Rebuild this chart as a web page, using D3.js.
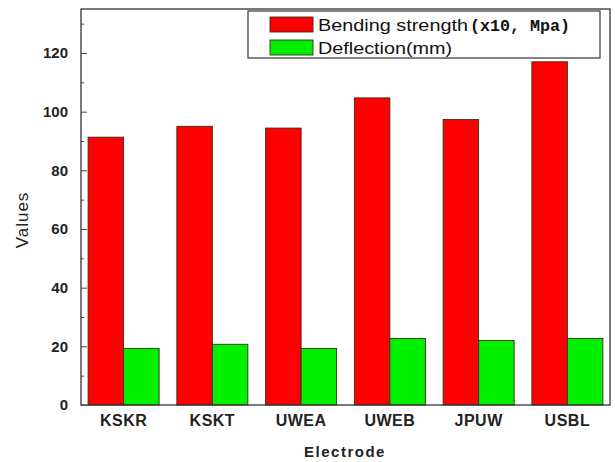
<!DOCTYPE html>
<html>
<head>
<meta charset="utf-8">
<script src="https://cdn.jsdelivr.net/npm/d3@7"></script>
<style>
  html, body { margin: 0; padding: 0; background: #fff; }
  svg { display: block; }
  text { font-family: "Liberation Sans", Arial, sans-serif; }
  text.mono { font-family: "Liberation Mono", "DejaVu Sans Mono", monospace; }
</style>
</head>
<body>
<svg id="chart" width="615" height="462"></svg>
<script>
// Electrode test results
const electrodes = ["KSKR", "KSKT", "UWEA", "UWEB", "JPUW", "USBL"];
const bendingStrength = [91.3, 95.0, 94.4, 104.7, 97.3, 117.0]; // x10 MPa
const deflection = [19.3, 20.7, 19.3, 22.7, 22.0, 22.7];         // mm
const majorTicks = [0, 20, 40, 60, 80, 100, 120];
const minorTicks = [10, 30, 50, 70, 90, 110, 130];
const seriesNames = ["Bending strength", "Deflection(mm)"];
const seriesColors = ["#ff0000", "#00f000"];

const svg = d3.select("#chart");
const plotL = 81, plotR = 610, plotT = 9, plotB = 405;

const x = d3.scaleBand().domain(electrodes).range([plotL, plotR])
  .paddingInner(0.2).paddingOuter(0.08);
const xs = d3.scaleBand().domain([0, 1]).range([0, x.bandwidth()]);
const y = d3.scaleLinear().domain([0, 135]).range([plotB, plotT]);

const rows = electrodes.map((e, i) => ({ e, v: [bendingStrength[i], deflection[i]] }));

// bars
const g = svg.append("g");
rows.forEach(r => {
  r.v.forEach((v, k) => {
    g.append("rect")
      .attr("x", x(r.e) + xs(k))
      .attr("y", y(v))
      .attr("width", xs.bandwidth())
      .attr("height", y(0) - y(v))
      .attr("fill", seriesColors[k])
      .attr("stroke", "#3a2a1a")
      .attr("stroke-width", 0.9);
  });
});

// frame
svg.append("rect")
  .attr("x", plotL).attr("y", plotT)
  .attr("width", plotR - plotL).attr("height", plotB - plotT)
  .attr("fill", "none").attr("stroke", "#333").attr("stroke-width", 1.3);

// y axis with inward ticks
const yAxis = d3.axisLeft(y).tickValues(majorTicks).tickSize(-6).tickPadding(13);
const ya = svg.append("g").attr("transform", `translate(${plotL},0)`).call(yAxis);
ya.select(".domain").remove();
ya.selectAll("line").attr("stroke", "#444");
ya.selectAll("text")
  .attr("font-size", 15).attr("font-weight", "bold").attr("fill", "#222");
svg.append("g").attr("transform", `translate(${plotL},0)`)
  .call(d3.axisLeft(y).tickValues(minorTicks).tickSize(-3).tickFormat(""))
  .call(s => s.select(".domain").remove())
  .selectAll("line").attr("stroke", "#444");

// x axis labels
const xa = svg.append("g").attr("transform", `translate(0,${plotB})`)
  .call(d3.axisBottom(x).tickSize(0).tickPadding(10));
xa.select(".domain").remove();
xa.selectAll("text")
  .attr("font-size", 16).attr("font-weight", "bold").attr("fill", "#222")
  .attr("letter-spacing", 0.5);

// axis titles
svg.append("text")
  .attr("x", 345).attr("y", 457)
  .attr("text-anchor", "middle")
  .attr("font-size", 15).attr("font-weight", "bold").attr("fill", "#222")
  .attr("letter-spacing", 1.5)
  .text("Electrode");
svg.append("text")
  .attr("transform", "translate(28,220) rotate(-90)")
  .attr("text-anchor", "middle")
  .attr("font-size", 17).attr("fill", "#222")
  .attr("letter-spacing", 1)
  .text("Values");

// legend
const lg = svg.append("g");
lg.append("rect")
  .attr("x", 248).attr("y", 11).attr("width", 352).attr("height", 47)
  .attr("fill", "#fff").attr("stroke", "#333").attr("stroke-width", 1.2);
const legendRows = [
  { y: 17, color: seriesColors[0] },
  { y: 40, color: seriesColors[1] }
];
legendRows.forEach(r => {
  lg.append("rect")
    .attr("x", 270).attr("y", r.y).attr("width", 43).attr("height", 15)
    .attr("fill", r.color).attr("stroke", "#3a2a1a").attr("stroke-width", 0.9);
});
lg.append("text").attr("x", 318).attr("y", 31)
  .attr("font-size", 17).attr("fill", "#111")
  .attr("textLength", 150).attr("lengthAdjust", "spacingAndGlyphs")
  .text(seriesNames[0]);
lg.append("text").attr("class", "mono").attr("x", 470).attr("y", 31)
  .attr("font-weight", "bold")
  .attr("font-size", 17).attr("fill", "#111")
  .attr("textLength", 100).attr("lengthAdjust", "spacingAndGlyphs")
  .text("(x10, Mpa)");
lg.append("text").attr("x", 318).attr("y", 54)
  .attr("font-size", 17).attr("fill", "#111")
  .attr("textLength", 134).attr("lengthAdjust", "spacingAndGlyphs")
  .text(seriesNames[1]);
</script>
</body>
</html>
